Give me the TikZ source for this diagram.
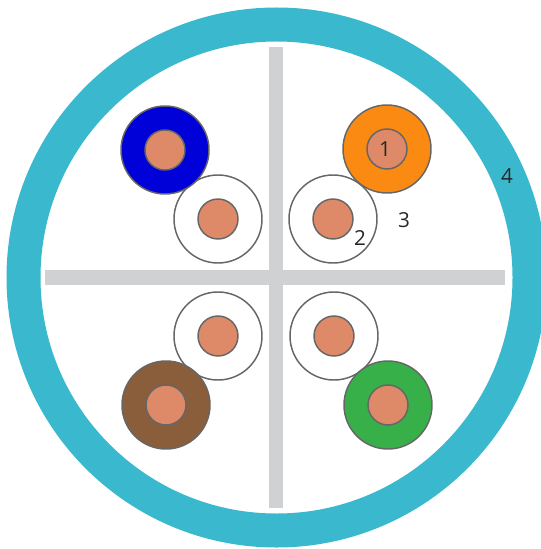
\documentclass[tikz,border=0pt]{standalone}
\usepackage{fontspec}
\setmainfont{Open Sans}
\definecolor{cteal}{HTML}{3AB9CE}
\definecolor{cgrey}{HTML}{D0D1D3}
\definecolor{ccore}{HTML}{DE8A69}
\definecolor{cblue}{HTML}{0000D8}
\definecolor{corange}{HTML}{FB8A12}
\definecolor{cbrown}{HTML}{8B5E3B}
\definecolor{cgreen}{HTML}{38B04A}
\definecolor{cedge}{HTML}{666666}
\tikzset{
  every picture/.style={x=0.75pt, y=-0.75pt},
  wire/.style={circle, draw=cedge, line width=1.1pt, fill=#1, minimum size=66pt, inner sep=0pt},
  core/.style={circle, draw=cedge, line width=1.1pt, fill=ccore, minimum size=30pt, inner sep=0pt},
  spline/.style={fill=cgrey, draw=none, inner sep=0pt},
  num/.style={inner sep=0pt, text=black!85, font=\fontsize{15.5}{18}\selectfont},
}
\begin{document}
\begin{tikzpicture}
  \useasboundingbox (0,0) rectangle (541,549);
  \node[circle, draw=cteal, line width=25.5pt, minimum size=379.5pt, inner sep=0pt, fill=white] (jacket) at (276.5,277.5) {};
  \node[spline, minimum width=10.5pt, minimum height=345.75pt] (vbar) at (276,277.5) {};
  \node[spline, minimum width=345pt, minimum height=11.25pt] (hbar) at (275,277.5) {};
  % white wires first, the coloured ones lie over them
  \node[wire=white] (wb) at (218,219) {};
  \node[core] (cb) at (218,219) {};
  \node[wire=white] (wd) at (333,219) {};
  \node[core] (cd) at (333,219) {};
  \node[wire=white] (we) at (218,336) {};
  \node[core] (ce) at (218,336) {};
  \node[wire=white] (wg) at (334,336) {};
  \node[core] (cg) at (334,336) {};
  % coloured wires
  \node[wire=cblue] (wa) at (165,150) {};
  \node[core] (ca) at (165,150) {};
  \node[wire=corange] (wc) at (387,149) {};
  \node[core] (cc) at (387,149) {};
  \node[wire=cbrown] (wf) at (166,405) {};
  \node[core] (cf) at (166,405) {};
  \node[wire=cgreen] (wh) at (388,405) {};
  \node[core] (ch) at (388,405) {};
  \node[num] (n1) at (385,149) {1};
  \node[num] (n2) at (360,238) {2};
  \node[num] (n3) at (404,220) {3};
  \node[num] (n4) at (507,176) {4};
\end{tikzpicture}
\end{document}
